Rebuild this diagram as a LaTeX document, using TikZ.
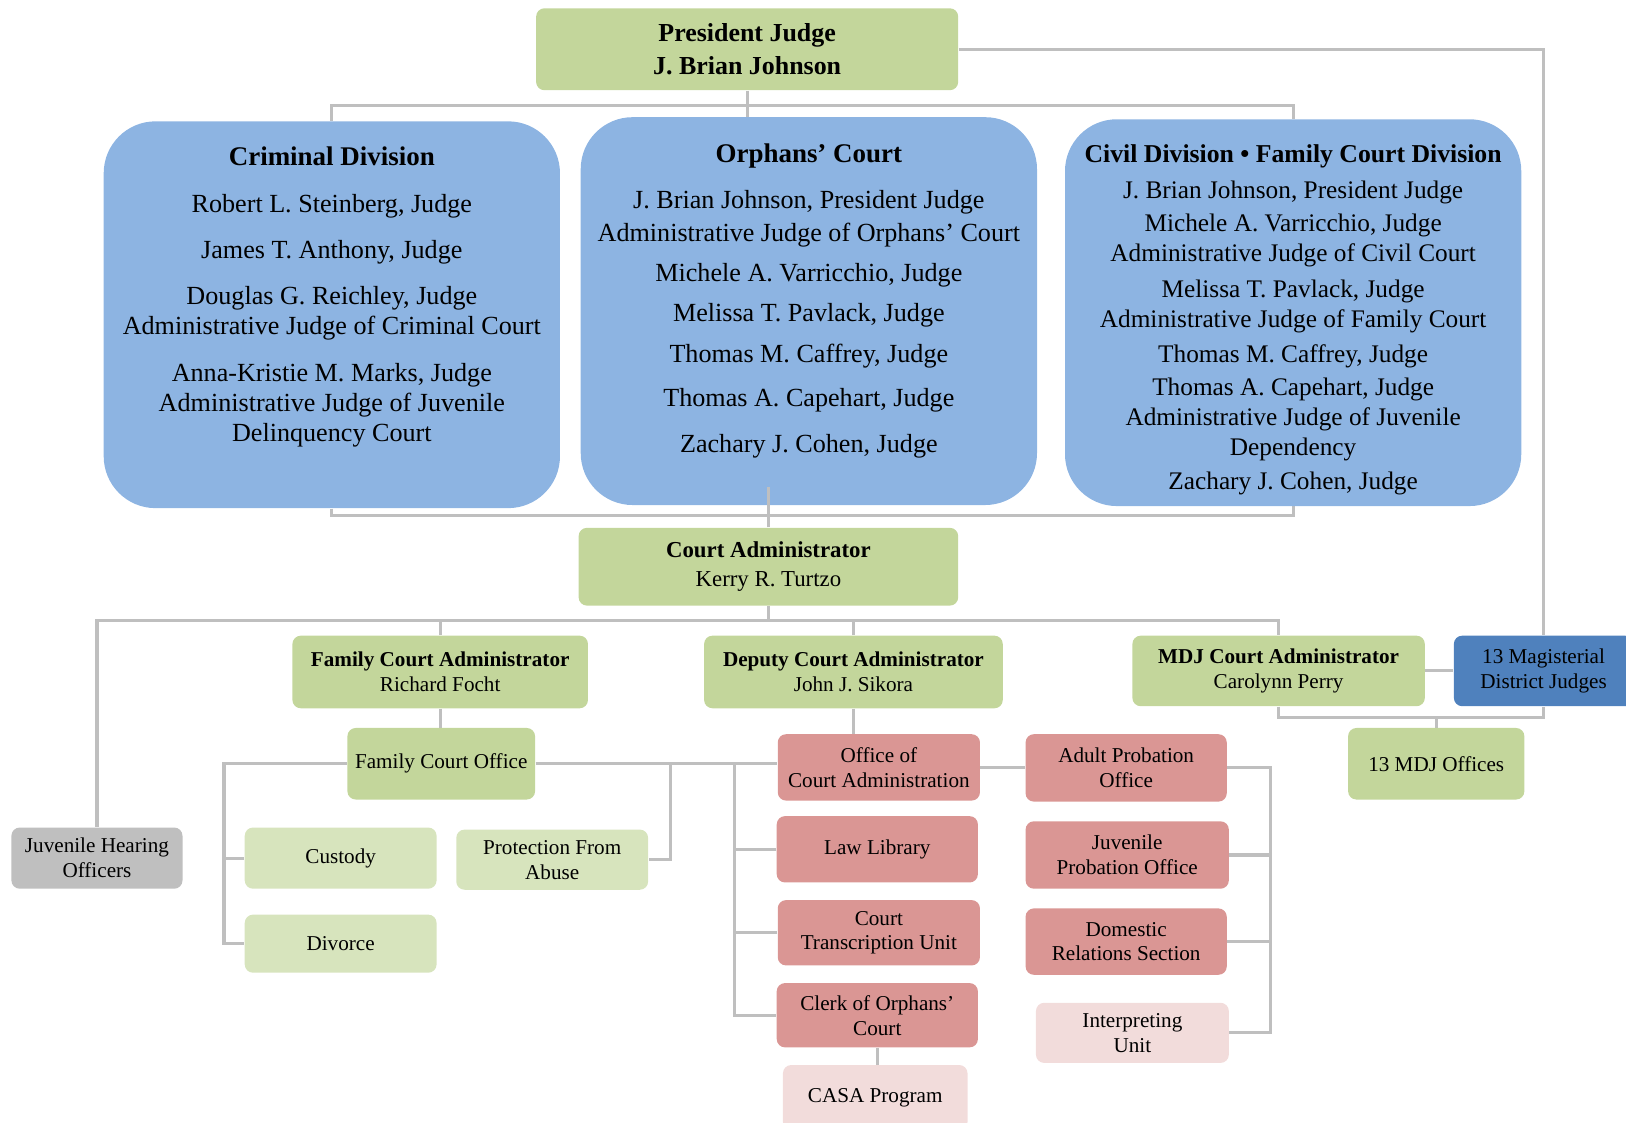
\documentclass[tikz,border=0pt]{standalone}
\usepackage{fontspec}
\setmainfont{Liberation Serif}
\definecolor{gA}{HTML}{C3D69B}
\definecolor{gB}{HTML}{D7E4BD}
\definecolor{bA}{HTML}{8DB4E2}
\definecolor{bB}{HTML}{4F81BD}
\definecolor{grA}{HTML}{BFBFBF}
\definecolor{rA}{HTML}{DA9694}
\definecolor{pA}{HTML}{F2DCDB}
\definecolor{ln}{HTML}{BFBFBF}
\pgfdeclarelayer{bg}
\pgfsetlayers{bg,main}
\begin{document}
\begin{tikzpicture}[x=0.5pt,y=-0.5pt,
  conn/.style={draw=ln, line width=1.5pt},
  bx/.style={rounded corners=4pt, inner sep=0pt, align=center, text=black, font=\fontsize{10.2}{12}\selectfont},
  boxgreen/.style={bx, fill=gA},
  boxlight/.style={bx, fill=gB},
  boxred/.style={bx, fill=rA},
  boxpink/.style={bx, fill=pA},
  boxgray/.style={bx, fill=grA},
  boxdark/.style={bx, fill=bB},
  divbox/.style={rounded corners=25pt, fill=bA, inner sep=0pt},
  divtext/.style={anchor=north, inner sep=0pt, align=center, text=black},
  sz/.style 2 args={minimum width=#1, minimum height=#2}
]
\useasboundingbox (0,0) rectangle (1568,1082);

% top
\node[boxgreen, sz={203.5pt}{39.5pt}, font=\bfseries\fontsize{12.5}{15.5}\selectfont] (pres) at (720.5,47.5) {President Judge\\J. Brian Johnson};

% divisions
\node[divbox, sz={220pt}{186.5pt}] (crim) at (320,303.5) {};
\node[divbox, sz={220pt}{187pt}] (orph) at (780,300) {};
\node[divbox, sz={220pt}{186.5pt}] (civ) at (1247,301.5) {};

\node[divtext, font=\fontsize{12.6}{14.5}\selectfont] (crimt) at (320,141)
 {{\bfseries\fontsize{13}{14.5}\selectfont Criminal Division}\\[8pt]
  Robert L. Steinberg, Judge\\[8pt]
  James T. Anthony, Judge\\[7.5pt]
  Douglas G. Reichley, Judge\\
  Administrative Judge of Criminal Court\\[8pt]
  Anna-Kristie M. Marks, Judge\\
  Administrative Judge of Juvenile\\
  Delinquency Court};

\node[divtext, font=\fontsize{12.6}{15.5}\selectfont] (orpht) at (780,138)
 {{\bfseries\fontsize{13}{15.5}\selectfont Orphans' Court}\\[7pt]
  J. Brian Johnson, President Judge\\
  Administrative Judge of Orphans' Court\\[4pt]
  Michele A. Varricchio, Judge\\[4pt]
  Melissa T. Pavlack, Judge\\[4pt]
  Thomas M. Caffrey, Judge\\[6pt]
  Thomas A. Capehart, Judge\\[6.5pt]
  Zachary J. Cohen, Judge};

\node[divtext, font=\fontsize{12.2}{14.5}\selectfont] (civt) at (1247,139)
 {{\bfseries\fontsize{12.4}{14.5}\selectfont Civil Division • Family Court Division}\\[3pt]
  J. Brian Johnson, President Judge\\[1.5pt]
  Michele A. Varricchio, Judge\\
  Administrative Judge of Civil Court\\[2.5pt]
  Melissa T. Pavlack, Judge\\
  Administrative Judge of Family Court\\[2.5pt]
  Thomas M. Caffrey, Judge\\[1.5pt]
  Thomas A. Capehart, Judge\\
  Administrative Judge of Juvenile\\
  Dependency\\[1.5pt]
  Zachary J. Cohen, Judge};

% court administrator
\node[boxgreen, sz={183pt}{37.5pt}, font=\fontsize{11}{14}\selectfont] (ca) at (741,546.5) {{\bfseries Court Administrator}\\Kerry R. Turtzo};

% second row
\node[boxgreen, sz={142.5pt}{35pt}] (fca) at (424.5,648) {{\bfseries Family Court Administrator}\\Richard Focht};
\node[boxgreen, sz={144pt}{35pt}] (dep) at (823,648) {{\bfseries Deputy Court Administrator}\\John J. Sikora};
\node[boxgreen, sz={141pt}{34pt}] (mdj) at (1233,647) {{\bfseries MDJ Court Administrator}\\Carolynn Perry};
\node[boxdark, sz={86.5pt}{34pt}] (mag) at (1488.5,647) {13 Magisterial\\District Judges};
\node[boxgreen, sz={85pt}{34.5pt}] (off) at (1385,736.5) {13 MDJ Offices};

% family branch
\node[boxgreen, sz={90.5pt}{34.5pt}] (fco) at (425.5,736.5) {Family Court Office};
\node[boxgray, sz={82.5pt}{29.5pt}] (jho) at (93.5,827.5) {Juvenile Hearing\\Officers};
\node[boxlight, sz={92.5pt}{29.5pt}] (cus) at (328.5,827.5) {Custody};
\node[boxlight, sz={92.5pt}{28pt}] (dvc) at (328.5,910) {Divorce};
\node[boxlight, sz={92.5pt}{29pt}] (pfa) at (532.5,829) {Protection From\\Abuse};

% deputy branch
\node[boxred, sz={97.5pt}{32pt}] (oca) at (847.5,740) {Office of\\Court Administration};
\node[boxred, sz={97pt}{32pt}] (law) at (846,819) {Law Library};
\node[boxred, sz={97.5pt}{31.5pt}] (ctu) at (847.5,899.5) {Court\\Transcription Unit};
\node[boxred, sz={97pt}{31pt}] (clk) at (846,979) {Clerk of Orphans'\\Court};
\node[boxpink, sz={89pt}{31.5pt}] (casa) at (844,1058.5) {CASA Program};
\node[boxred, sz={97pt}{32.5pt}] (ap) at (1086,740.5) {Adult Probation\\Office};
\node[boxred, sz={98pt}{32.5pt}] (jpo) at (1087,824.5) {Juvenile\\Probation Office};
\node[boxred, sz={97pt}{32pt}] (drs) at (1086,908) {Domestic\\Relations Section};
\node[boxpink, sz={93pt}{29pt}] (int) at (1092,996) {Interpreting\\Unit};

\coordinate (orphin) at (741,470);
\draw[conn] (ca.north) -- (orphin);

\begin{pgfonlayer}{bg}
\coordinate (t1) at (0,102);
\coordinate (t2) at (0,497);
\coordinate (t3) at (0,598);
\coordinate (t4) at (0,692);
\coordinate (xl) at (216,0);
\coordinate (xp) at (647,0);
\coordinate (xd) at (708,0);
\coordinate (xr) at (1225,0);
\draw[conn] (pres.south) -- (pres.south |- orph.north);
\draw[conn] (crim.north) -- (crim.north |- t1) -- (civ.north |- t1) -- (civ.north);
\draw[conn] (pres.east) -| (mag.north);
\draw[conn] (crim.south) -- (crim.south |- t2) -- (civ.south |- t2) -- (civ.south);
\draw[conn] (ca.south) -- (ca.south |- t3);
\draw[conn] (jho.north) -- (jho.north |- t3) -- (mdj.north |- t3) -- (mdj.north);
\draw[conn] (fca.north) -- (fca.north |- t3);
\draw[conn] (dep.north) -- (dep.north |- t3);
\draw[conn] (fca.south) -- (fca.south |- fco.north);
\draw[conn] (mdj.east) -- (mag.west);
\draw[conn] (mdj.south) -- (mdj.south |- t4) -- (mag.south |- t4) -- (mag.south);
\draw[conn] (off.north) -- (off.north |- t4);
\draw[conn] (fco.west) -- (xl |- fco.west) -- (xl |- dvc.west) -- (dvc.west);
\draw[conn] (cus.west) -- (xl |- cus.west);
\draw[conn] (fco.east) -- (oca.west |- fco.east);
\draw[conn] (xp |- fco.east) |- (pfa.east);
\draw[conn] (dep.south) -- (dep.south |- oca.north);
\draw[conn] (xd |- fco.east) |- (clk.west);
\draw[conn] (law.west) -- (xd |- law.west);
\draw[conn] (ctu.west) -- (xd |- ctu.west);
\draw[conn] (clk.south) -- (clk.south |- casa.north);
\draw[conn] (oca.east) -- (ap.west |- oca.east);
\draw[conn] (ap.east) -| (xr |- int.east) -- (int.east);
\draw[conn] (jpo.east) -- (xr |- jpo.east);
\draw[conn] (drs.east) -- (xr |- drs.east);
\end{pgfonlayer}
\end{tikzpicture}
\end{document}
